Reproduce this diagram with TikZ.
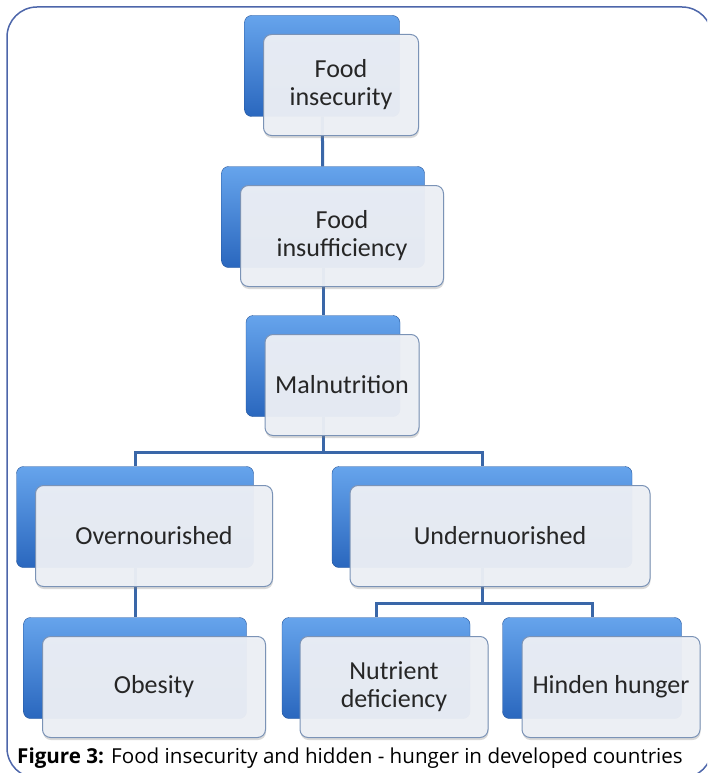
\documentclass[tikz,border=0pt]{standalone}
\usepackage{fontspec}
\setmainfont{Open Sans}
\newfontfamily\boxfont{Carlito}
\usetikzlibrary{shadows}

\definecolor{tabtop}{HTML}{66A4EC}
\definecolor{tabmid}{HTML}{3C80D6}
\definecolor{tabbot}{HTML}{2A67BE}
\definecolor{cardfill}{HTML}{EDF0F6}
\definecolor{carddraw}{HTML}{7B93B6}
\definecolor{linkblue}{HTML}{3A67A8}
\definecolor{framecol}{HTML}{4D66AA}

\tikzset{
  tab/.style={rectangle, rounded corners=7pt, top color=tabtop, middle color=tabmid,
    bottom color=tabbot, draw=tabbot!80!black, line width=0.4pt,
    minimum height=101pt, inner sep=0pt},
  card/.style={rectangle, rounded corners=8pt, fill=cardfill, fill opacity=0.95,
    text opacity=1, draw=carddraw, line width=1pt, minimum height=101pt,
    align=center, text=black!85, inner sep=0pt,
    font=\boxfont\fontsize{26}{28}\selectfont,
    drop shadow={shadow xshift=0.5pt, shadow yshift=-2.5pt, opacity=0.3}},
  link/.style={draw=linkblue, line width=3pt}
}

\begin{document}
\begin{tikzpicture}[x=1pt, y=-1pt]
  \clip (0,0) rectangle (707,773);
  \useasboundingbox (0,0) rectangle (707,773);

  % outer frame
  \draw[framecol, line width=1.5pt, rounded corners=30pt] (7,7) rectangle (712,778);

  % blue tabs behind the cards
  \node[tab, minimum width=155pt] (insecurity) at (322,66) {};
  \node[tab, minimum width=203pt] (insufficiency) at (323,217) {};
  \node[tab, minimum width=154pt] (malnutrition) at (323,366) {};
  \node[tab, minimum width=237pt] (overnourished) at (135,517) {};
  \node[tab, minimum width=300pt] (undernourished) at (482,517) {};
  \node[tab, minimum width=223pt] (obesity) at (135,668) {};
  \node[tab, minimum width=188pt] (nutrient) at (376,668) {};
  \node[tab, minimum width=179pt] (hidden) at (592,668) {};

  % connectors
  \coordinate (split1) at (323,452);
  \coordinate (split2) at (482,603);
  \draw[link] (insecurity) -- (insufficiency);
  \draw[link] (insufficiency) -- (malnutrition);
  \draw[link] (malnutrition) -- (split1) -| (overnourished);
  \draw[link] (split1) -| (undernourished);
  \draw[link] (overnourished) -- (obesity);
  \draw[link] (undernourished) -- (split2) -| (nutrient);
  \draw[link] (split2) -| (hidden);

  % cards
  \node[card, minimum width=155pt] (insecurity-txt) at ([shift={(19,19)}]insecurity) {Food\\insecurity};
  \node[card, minimum width=203pt] (insufficiency-txt) at ([shift={(19,19)}]insufficiency) {Food\\insufficiency};
  \node[card, minimum width=154pt] (malnutrition-txt) at ([shift={(19,19)}]malnutrition) {Malnutrition};
  \node[card, minimum width=237pt] (overnourished-txt) at ([shift={(19,19)}]overnourished) {Overnourished};
  \node[card, minimum width=300pt] (undernourished-txt) at ([shift={(18,19)}]undernourished) {Undernuorished};
  \node[card, minimum width=223pt] (obesity-txt) at ([shift={(19,19)}]obesity) {Obesity};
  \node[card, minimum width=188pt] (nutrient-txt) at ([shift={(18,19)}]nutrient) {Nutrient\\deficiency};
  \node[card, minimum width=178pt] (hidden-txt) at ([shift={(19,19)}]hidden) {Hinden hunger};

  % caption
  \node[anchor=base west, inner sep=0pt, font=\fontsize{20.6}{24}\selectfont] (caption) at (17,763)
    {\textbf{Figure 3:} Food insecurity and hidden - hunger in developed countries};
\end{tikzpicture}
\end{document}
